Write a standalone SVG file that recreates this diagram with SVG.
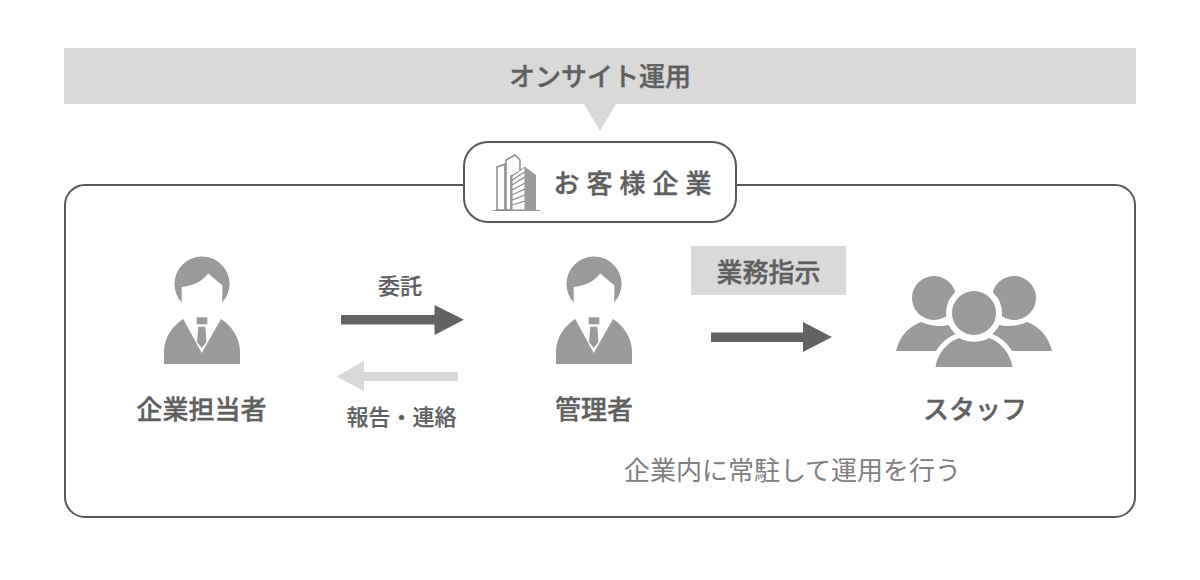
<svg xmlns="http://www.w3.org/2000/svg" width="1200" height="580" viewBox="0 0 1200 580">
<style>
text{font-family:"Noto Sans CJK JP","Noto Sans",sans-serif;font-weight:500;fill:#5f5f5f;stroke:#5f5f5f;stroke-width:.4px;text-anchor:middle}
.t26{font-size:26px}
.t22{font-size:22px;stroke-width:.2px}
.icon{fill:#999a9b}
</style>
<defs>
<g id="person">
<path class="icon" d="M181.700 302.500A27.500 27.500 0 1 1 222.300 302.500L222.300 285C218 282 212 277 208.300 273.300C202 282 192 286 181.700 287Z"/>
<path class="icon" d="M164 364L164 352C164 338 172 326 183.300 319L201.700 353L221 319C232 326 240 338 240 352L240 364Z"/>
<rect class="icon" x="196.700" y="317.300" width="10.600" height="7"/>
<path class="icon" d="M198.300 326.700H205.300L206.500 342L201.800 348L197 342Z"/>
</g>
</defs>
<g id="banner">
<rect x="64" y="48" width="1072" height="56" fill="#d9d9d9"/>
<path d="M584 104H616L600 131Z" fill="#d9d9d9"/>
<text class="t26" x="600" y="86">オンサイト運用</text>
</g>
<rect id="frame" x="65" y="185" width="1070" height="332" rx="20" fill="#fff" stroke="#595959" stroke-width="2"/>
<g id="client">
<rect x="464" y="142" width="272" height="80" rx="24" fill="#fff" stroke="#595959" stroke-width="2"/>
<g>
<path d="M493 210.500H540" stroke="#999a9b" stroke-width="1"/>
<path d="M497 167L505 164V210H497Z" fill="#fff" stroke="#8a8a8a" stroke-width="1.500"/>
<path d="M506 160L515 155L520 160V172L511 176V210H506Z" fill="#fff" stroke="#8a8a8a" stroke-width="1.500"/>
<path d="M512 176L525 167V210H512Z" fill="#fff" stroke="#8a8a8a" stroke-width="1"/>
<path d="M512 180L525 172M512 185L525 177M512 190L525 183M512 195L525 189M512 200L525 195M512 205L525 201" stroke="#8a8a8a" stroke-width="1.200" fill="none"/>
<path d="M525 167L536 175V210H525Z" fill="#999a9b"/>
</g>
<text class="t26" x="636" y="193" style="letter-spacing:7px">お客様企業</text>
</g>
<g id="staff-a">
<use href="#person"/>
<text class="t26" x="201.500" y="419">企業担当者</text>
</g>
<g id="manager">
<use href="#person" x="392"/>
<text class="t26" x="594" y="419">管理者</text>
</g>
<g id="connectors">
<path d="M341 315H434.500V305L464 319.700L434.500 335V324.500H341Z" fill="#636363"/>
<path d="M458 372H364V361L336.500 376.500L364 391V381H458Z" fill="#d9d9d9"/>
<path d="M711 332.500H803V322L832 337L803 352V342H711Z" fill="#636363"/>
</g>
<g id="label-itaku"><text class="t22" x="400" y="294">委託</text></g>
<g id="label-hokoku"><text class="t22" x="401.500" y="425">報告・連絡</text></g>
<g id="instruction">
<rect x="691" y="246" width="155" height="49" fill="#d9d9d9"/>
<text class="t26" x="768.500" y="282">業務指示</text>
</g>
<g id="staff">
<circle class="icon" cx="934" cy="298" r="22"/>
<circle class="icon" cx="1014" cy="298" r="22"/>
<path class="icon" d="M896 351C900 335 910 326 921 322C932 327 944 327 952 324L985 351Z"/>
<path class="icon" d="M1052 351C1048 335 1038 326 1027 322C1016 327 1004 327 996 324L963 351Z"/>
<circle class="icon" cx="974" cy="313" r="22" stroke="#fff" stroke-width="12" paint-order="stroke"/>
<path class="icon" d="M935.500 367C938 352 948 342 959 338C968 343 980 343 989 338C1000 342 1010 352 1012.500 367Z" stroke="#fff" stroke-width="10" paint-order="stroke"/>
<text class="t26" x="975" y="419">スタッフ</text>
</g>
<g id="note"><text x="792.500" y="480" style="font-size:26px;font-weight:400;fill:#808080;stroke:none">企業内に常駐して運用を行う</text></g>
</svg>
